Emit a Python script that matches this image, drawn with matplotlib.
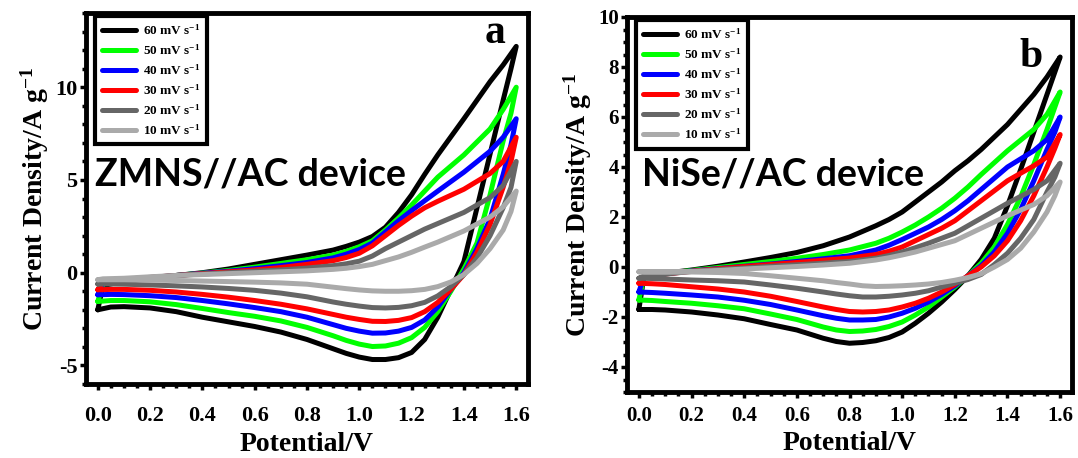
import matplotlib
matplotlib.use("Agg")
import matplotlib.pyplot as plt
from matplotlib.ticker import MultipleLocator

plt.rcParams["font.family"] = "Liberation Serif"
plt.rcParams["font.weight"] = "bold"
plt.rcParams["axes.unicode_minus"] = False
plt.rcParams["mathtext.fontset"] = "custom"
plt.rcParams["mathtext.rm"] = "Liberation Serif:bold"
plt.rcParams["mathtext.bf"] = "Liberation Serif:bold"
plt.rcParams["mathtext.default"] = "bf"

# scan rates and colours, same order in every table below
rates = ["60", "50", "40", "30", "20", "10"]
colors = ["#000000", "#00ff00", "#0000ff", "#ff0000", "#666666", "#aaaaaa"]

# ---- (a) ZMNS//AC ----
# anodic sweep 0 -> 1.6 V
a_x_fwd = [0.0, 0.02, 0.1, 0.2, 0.3, 0.4, 0.5, 0.6, 0.7, 0.8, 0.9, 0.95, 1.0, 1.05, 1.1,
           1.15, 1.2, 1.25, 1.3, 1.4, 1.5, 1.55, 1.6]
a_fwd = [
    [-2.0, -0.7, -0.45, -0.3, -0.15, 0.0, 0.2, 0.45, 0.7, 0.95, 1.22, 1.42, 1.65, 1.95, 2.45,
     3.25, 4.2, 5.3, 6.35, 8.3, 10.3, 11.2, 12.2],
    [-1.55, -0.6, -0.42, -0.28, -0.15, -0.02, 0.12, 0.3, 0.5, 0.7, 0.95, 1.15, 1.4, 1.72, 2.3,
     2.95, 3.65, 4.4, 5.15, 6.35, 7.75, 8.8, 10.0],
    [-1.19, -0.55, -0.4, -0.27, -0.15, -0.03, 0.08, 0.22, 0.38, 0.55, 0.8, 1.0, 1.25, 1.6, 2.2,
     2.8, 3.35, 3.88, 4.4, 5.42, 6.55, 7.3, 8.3],
    [-0.92, -0.5, -0.38, -0.26, -0.15, -0.05, 0.05, 0.15, 0.28, 0.45, 0.65, 0.82, 1.05, 1.45, 2.0,
     2.55, 3.05, 3.5, 3.85, 4.5, 5.35, 6.0, 7.3],
    [-0.61, -0.45, -0.36, -0.25, -0.15, -0.07, 0.0, 0.08, 0.15, 0.25, 0.38, 0.48, 0.62, 0.9, 1.3,
     1.65, 2.0, 2.35, 2.65, 3.25, 4.05, 4.7, 6.0],
    [-0.38, -0.33, -0.3, -0.22, -0.15, -0.1, -0.05, 0.0, 0.05, 0.1, 0.18, 0.24, 0.33, 0.45, 0.65,
     0.85, 1.1, 1.38, 1.65, 2.25, 3.0, 3.55, 4.4],
]
# cathodic sweep 1.6 -> 0 V
a_x_rev = [1.6, 1.58, 1.55, 1.5, 1.45, 1.4, 1.35, 1.3, 1.25, 1.2, 1.15, 1.1, 1.05, 1.0, 0.95,
           0.9, 0.8, 0.7, 0.6, 0.5, 0.4, 0.3, 0.2, 0.1, 0.05, 0.0]
a_rev = [
    [12.2, 11.0, 9.3, 6.4, 3.5, 0.6, -0.9, -2.4, -3.6, -4.3, -4.58, -4.68, -4.68, -4.55, -4.35,
     -4.1, -3.6, -3.2, -2.9, -2.65, -2.4, -2.1, -1.9, -1.83, -1.85, -2.0],
    [10.0, 8.6, 7.1, 4.2, 1.6, 0.2, -1.0, -2.1, -2.95, -3.5, -3.8, -3.95, -3.98, -3.85, -3.65,
     -3.4, -2.95, -2.6, -2.35, -2.15, -1.93, -1.72, -1.57, -1.5, -1.5, -1.55],
    [8.3, 6.9, 5.3, 2.9, 1.3, 0.0, -0.9, -1.85, -2.55, -2.95, -3.15, -3.25, -3.26, -3.15, -3.0,
     -2.8, -2.4, -2.1, -1.88, -1.68, -1.5, -1.34, -1.24, -1.18, -1.17, -1.19],
    [7.3, 6.0, 4.6, 2.6, 1.1, -0.1, -0.9, -1.6, -2.1, -2.42, -2.57, -2.63, -2.62, -2.52, -2.4,
     -2.25, -1.95, -1.7, -1.5, -1.32, -1.17, -1.04, -0.95, -0.9, -0.9, -0.92],
    [6.0, 4.6, 3.5, 2.0, 0.8, -0.1, -0.75, -1.25, -1.6, -1.78, -1.87, -1.9, -1.88, -1.8, -1.7,
     -1.58, -1.3, -1.1, -0.95, -0.85, -0.77, -0.71, -0.66, -0.62, -0.61, -0.61],
    [4.4, 3.3, 2.3, 1.3, 0.5, -0.1, -0.5, -0.75, -0.9, -0.97, -1.0, -1.0, -0.98, -0.93, -0.86,
     -0.78, -0.62, -0.55, -0.51, -0.48, -0.45, -0.42, -0.4, -0.38, -0.38, -0.38],
]

# ---- (b) NiSe//AC ----
b_x_fwd = [0.0, 0.02, 0.1, 0.2, 0.3, 0.4, 0.5, 0.6, 0.7, 0.8, 0.9, 0.95, 1.0, 1.05, 1.1,
           1.15, 1.2, 1.25, 1.3, 1.4, 1.5, 1.55, 1.6]
b_fwd = [
    [-1.7, -0.35, -0.25, -0.12, 0.03, 0.2, 0.38, 0.58, 0.85, 1.2, 1.65, 1.9, 2.2, 2.6, 3.0,
     3.4, 3.85, 4.25, 4.7, 5.7, 6.9, 7.6, 8.4],
    [-1.32, -0.37, -0.26, -0.14, -0.02, 0.1, 0.22, 0.35, 0.5, 0.68, 0.95, 1.15, 1.4, 1.68, 2.0,
     2.35, 2.75, 3.2, 3.7, 4.65, 5.5, 6.1, 7.0],
    [-1.0, -0.38, -0.27, -0.16, -0.06, 0.03, 0.12, 0.22, 0.33, 0.45, 0.68, 0.87, 1.1, 1.35, 1.6,
     1.9, 2.25, 2.65, 3.1, 4.0, 4.65, 5.1, 6.0],
    [-0.65, -0.38, -0.28, -0.17, -0.07, 0.02, 0.1, 0.18, 0.27, 0.36, 0.5, 0.63, 0.8, 1.05, 1.3,
     1.55, 1.85, 2.25, 2.65, 3.45, 4.05, 4.4, 5.3],
    [-0.45, -0.36, -0.28, -0.18, -0.1, -0.04, 0.03, 0.09, 0.15, 0.22, 0.35, 0.46, 0.6, 0.77, 0.95,
     1.15, 1.35, 1.65, 1.95, 2.55, 3.1, 3.45, 4.15],
    [-0.19, -0.2, -0.2, -0.18, -0.14, -0.08, -0.03, 0.02, 0.08, 0.15, 0.28, 0.37, 0.48, 0.6, 0.75,
     0.9, 1.05, 1.3, 1.55, 2.05, 2.5, 2.85, 3.4],
]
b_x_rev = [1.6, 1.58, 1.55, 1.5, 1.45, 1.4, 1.35, 1.3, 1.25, 1.2, 1.15, 1.1, 1.05, 1.0, 0.95,
           0.9, 0.85, 0.8, 0.75, 0.7, 0.6, 0.5, 0.4, 0.3, 0.2, 0.1, 0.05, 0.0]
b_rev = [
    [8.4, 7.8, 6.9, 5.4, 3.9, 2.45, 1.15, 0.3, -0.35, -0.9, -1.4, -1.85, -2.25, -2.6, -2.82,
     -2.95, -3.02, -3.05, -2.98, -2.85, -2.52, -2.3, -2.07, -1.92, -1.8, -1.72, -1.7, -1.7],
    [7.0, 6.4, 5.5, 4.1, 2.8, 1.7, 0.8, 0.15, -0.35, -0.8, -1.2, -1.6, -1.92, -2.2, -2.38,
     -2.5, -2.56, -2.58, -2.52, -2.4, -2.1, -1.88, -1.67, -1.55, -1.45, -1.38, -1.34, -1.32],
    [6.0, 5.4, 4.7, 3.45, 2.3, 1.35, 0.6, 0.05, -0.35, -0.75, -1.1, -1.4, -1.65, -1.85, -2.0,
     -2.1, -2.12, -2.12, -2.05, -1.95, -1.72, -1.5, -1.33, -1.2, -1.12, -1.05, -1.02, -1.0],
    [5.3, 4.75, 4.0, 2.85, 1.85, 1.05, 0.45, 0.0, -0.35, -0.7, -1.0, -1.25, -1.45, -1.6, -1.72,
     -1.78, -1.8, -1.78, -1.7, -1.6, -1.38, -1.17, -1.0, -0.88, -0.79, -0.7, -0.67, -0.65],
    [4.15, 3.6, 3.0, 1.9, 1.15, 0.55, 0.1, -0.3, -0.5, -0.65, -0.8, -0.95, -1.05, -1.12, -1.17,
     -1.2, -1.2, -1.15, -1.08, -1.0, -0.85, -0.72, -0.6, -0.55, -0.52, -0.48, -0.46, -0.45],
    [3.4, 2.85, 2.2, 1.4, 0.75, 0.3, 0.0, -0.27, -0.42, -0.53, -0.62, -0.68, -0.72, -0.75, -0.77,
     -0.78, -0.75, -0.68, -0.62, -0.55, -0.45, -0.35, -0.26, -0.22, -0.2, -0.19, -0.19, -0.19],
]


def draw_panel(ax, x_fwd, fwd, x_rev, rev, ylim, ymajor, yminor, tick_size, xpad,
               device, letter, letter_pos, device_pos):
    for rate, col, up, down in zip(rates, colors, fwd, rev):
        ax.plot(x_fwd + x_rev, up + down, color=col, lw=3.6,
                solid_joinstyle="round", solid_capstyle="round",
                label=rf"{rate} mV s$^{{-1}}$")

    ax.set_xlim(-0.045, 1.645)
    ax.set_ylim(*ylim)
    ax.xaxis.set_major_locator(MultipleLocator(0.2))
    ax.xaxis.set_minor_locator(MultipleLocator(0.05))
    ax.yaxis.set_major_locator(MultipleLocator(ymajor))
    ax.yaxis.set_minor_locator(MultipleLocator(yminor))
    ax.xaxis.set_major_formatter(plt.FormatStrFormatter("%.1f"))

    for sp in ax.spines.values():
        sp.set_linewidth(3.5)
    ax.tick_params(which="both", direction="out", top=False, right=False, width=2.5)
    ax.tick_params(which="major", length=4)
    ax.tick_params(which="minor", length=3)
    ax.tick_params(axis="x", which="major", pad=xpad, labelsize=tick_size)
    ax.tick_params(axis="y", which="major", pad=2, labelsize=tick_size)
    for lab in ax.get_xticklabels() + ax.get_yticklabels():
        lab.set_fontweight("bold")

    ax.set_xlabel("Potential/V", fontsize=20, fontweight="bold", labelpad=4)
    ax.set_ylabel(r"Current Density/A g$^{-1}$", fontsize=20, fontweight="bold", labelpad=3)

    leg = ax.legend(loc="upper left", bbox_to_anchor=(0.02, 0.992), borderaxespad=0,
                    fancybox=False, framealpha=1, edgecolor="black",
                    prop={"family": "Liberation Serif", "weight": "bold", "size": 9.5},
                    handlelength=2.6, handletextpad=0.5, labelspacing=0.4,
                    borderpad=0.55)
    leg.get_frame().set_linewidth(3)

    ax.text(device_pos[0], device_pos[1], device, transform=ax.transAxes,
            family="Lato", fontweight="bold", fontsize=27, ha="left", va="baseline")
    ax.text(letter_pos[0], letter_pos[1], letter, transform=ax.transAxes,
            fontsize=30, fontweight="bold", ha="right", va="baseline")


fig = plt.figure(figsize=(10.78, 4.58), dpi=100)
ax_a = fig.add_axes([86 / 1078, 1 - 384 / 458, 442 / 1078, 371 / 458])
ax_b = fig.add_axes([627 / 1078, 1 - 392 / 458, 445 / 1078, 375 / 458])

draw_panel(ax_a, a_x_fwd, a_fwd, a_x_rev, a_rev, (-6, 14), 5, 1, 16, 12,
           "ZMNS//AC device", "a", (0.948, 0.919), (0.02, 0.534))
draw_panel(ax_b, b_x_fwd, b_fwd, b_x_rev, b_rev, (-5, 10), 2, 0.5, 15, 6,
           "NiSe//AC device", "b", (0.935, 0.867), (0.034, 0.552))

fig.savefig("out.png", dpi=100)
